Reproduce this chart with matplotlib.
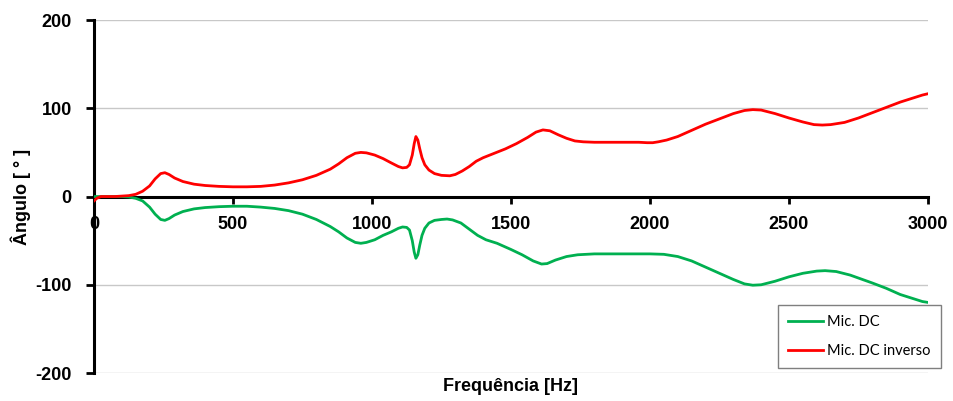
import matplotlib.pyplot as plt

plt.rcParams['font.family'] = 'Liberation Sans'
plt.rcParams['axes.unicode_minus'] = False

# phase angle (deg) vs frequency (Hz), direct mic
freq_dc = [0, 50, 100, 125, 150, 175, 200, 220, 240, 255, 270, 290, 320, 360,
           400, 450, 500, 550, 600, 650, 700, 750, 800, 850, 880, 910, 940,
           960, 980, 1010, 1040, 1070, 1095, 1110, 1125, 1135, 1145, 1152,
           1158, 1165, 1172, 1180, 1190, 1205, 1225, 1250, 1270, 1290, 1320,
           1350, 1380, 1410, 1450, 1500, 1540, 1580, 1610, 1630, 1660, 1700,
           1740, 1800, 1900, 2000, 2050, 2100, 2150, 2200, 2250, 2300, 2340,
           2370, 2400, 2450, 2500, 2550, 2600, 2630, 2670, 2720, 2800, 2850,
           2900, 2950, 2980, 3000]
mic_dc = [0, 0, 0, -0.5, -2, -5, -12, -20, -26, -27, -25, -21, -17, -14,
          -12.5, -11.5, -11, -11, -12, -13.5, -16, -20, -26, -34, -40, -47, -52,
          -53, -52, -49, -44, -40, -36, -34.5, -35, -38, -50, -63,
          -70, -66, -55, -44, -36, -30, -27, -26, -25.5, -26.5, -30,
          -37, -44, -49, -53, -60, -66, -73, -76.5, -76, -72, -68,
          -66, -65, -65, -65, -65.5, -68, -73, -80, -87, -94, -99,
          -100.5, -100, -96, -91, -87, -84.5, -84, -85, -89, -98, -104,
          -111, -116, -119, -120]

# phase angle (deg) vs frequency (Hz), inverted mic
freq_inv = [0, 10, 25, 50, 75, 100, 125, 150, 175, 200, 220, 240, 255, 270,
            290, 320, 360, 400, 450, 500, 550, 600, 650, 700, 750, 800, 850,
            880, 910, 940, 960, 980, 1010, 1040, 1070, 1095, 1110, 1125, 1135,
            1145, 1152, 1158, 1165, 1172, 1180, 1190, 1205, 1225, 1250, 1280,
            1300, 1325, 1350, 1375, 1400, 1440, 1480, 1520, 1560, 1590, 1615,
            1640, 1670, 1700, 1730, 1760, 1800, 1900, 1960, 1990, 2010, 2030,
            2060, 2100, 2150, 2200, 2250, 2300, 2340, 2370, 2400, 2450, 2500,
            2550, 2590, 2620, 2650, 2700, 2750, 2800, 2850, 2900, 2950, 2980,
            3000]
mic_dc_inv = [-5, -2, 0, 0, 0, 0.5, 1, 2.5, 6, 12, 20, 26, 27, 25,
              21, 17, 14, 12.5, 11.5, 11, 11, 11.5, 13, 15.5, 19, 24, 31,
              37, 44, 49, 50, 49.5, 47, 43, 38, 34, 32.5, 33, 36,
              47, 60, 68, 64, 54, 44, 36, 30, 26, 24, 23.5,
              25, 29, 34, 40, 44, 49, 54, 60, 67, 73, 75.5,
              74.5, 70, 66, 63, 62, 61.5, 61.5, 61.5, 61, 61, 62,
              64, 68, 75, 82, 88, 94, 97.5, 98.5, 98, 94, 89,
              84.5, 81.5, 81, 81.5, 84, 89, 95, 101, 107, 112, 115,
              116.5]

yticks = [-200, -100, 0, 100, 200]
xticks = [0, 500, 1000, 1500, 2000, 2500, 3000]

fig = plt.figure(figsize=(9.54, 4.01), dpi=100)
ax = fig.add_axes([0.0985, 0.0698, 0.8742, 0.8802])

ax.plot(freq_dc, mic_dc, color='#00B050', lw=2.0, label='Mic. DC', zorder=3)
ax.plot(freq_inv, mic_dc_inv, color='#FF0000', lw=2.0, label='Mic. DC inverso',
        zorder=3)

ax.set_xlim(0, 3000)
ax.set_ylim(-200, 200)
ax.set_xticks(xticks)
ax.set_yticks(yticks)
ax.grid(axis='y', color='#c8c8c8', lw=1.0, zorder=0)

# x axis drawn through zero
ax.spines['bottom'].set_position(('data', 0))
ax.spines['top'].set_visible(False)
ax.spines['right'].set_visible(False)
ax.spines['left'].set_linewidth(2.2)
ax.spines['bottom'].set_linewidth(2.2)
ax.tick_params(axis='x', width=2, length=5, direction='out', pad=9,
               labelsize=13)
ax.tick_params(axis='y', width=2, length=6, direction='out', pad=10,
               labelsize=13)
for lab in ax.get_xticklabels() + ax.get_yticklabels():
    lab.set_fontweight('bold')

ax.set_xlabel('Frequência [Hz]', fontsize=13, fontweight='bold', va='center')
ax.xaxis.set_label_coords(0.5, -0.037)
ax.set_ylabel('Ângulo [ ° ]', fontsize=13, fontweight='bold', va='center')
ax.yaxis.set_label_coords(-0.088, 0.5)

leg = ax.legend(loc='upper left', bbox_to_anchor=(0.8197, 0.1925),
                fancybox=False, framealpha=1, edgecolor='#7f7f7f',
                prop={'family': 'Lato', 'size': 10.5}, handlelength=2.4,
                borderpad=0.7, labelspacing=1.0, handletextpad=0.3,
                borderaxespad=0)
leg.get_frame().set_linewidth(1.0)

fig.savefig('out.png', dpi=100)
